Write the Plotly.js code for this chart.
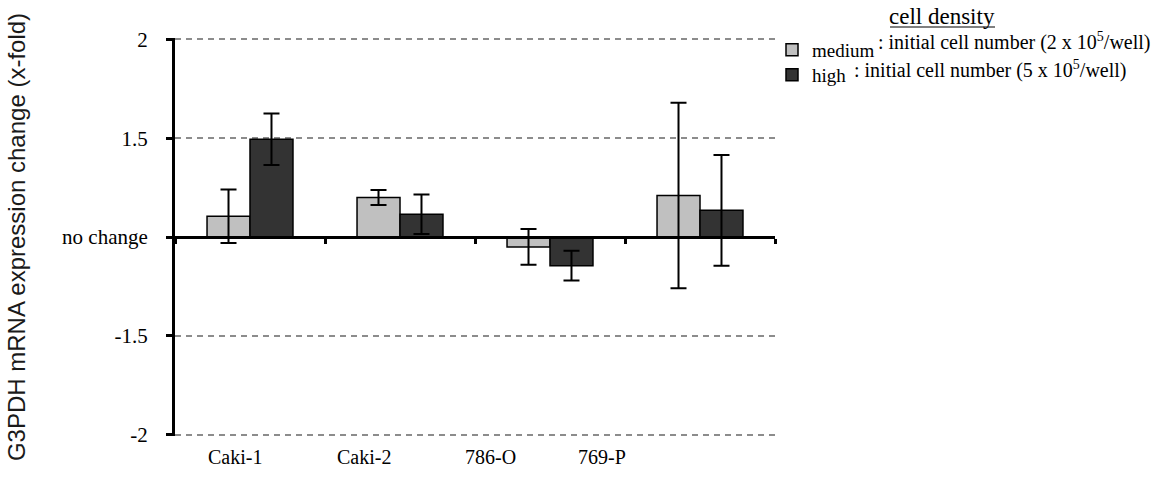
<!DOCTYPE html>
<html>
<head>
<meta charset="utf-8">
<script src="https://cdn.plot.ly/plotly-3.0.1.min.js"></script>
<style>html,body{margin:0;padding:0;background:#fff;}#chart{width:1167px;height:488px;}</style>
</head>
<body>
<div id="chart"></div>
<script>
// Data (internal axis units: 0 = no change, ±1 = ±1.5-fold, ±2 = ±2-fold)
const categories = ["Caki-1", "Caki-2", "786-O", "769-P"];
const seriesNames = ["medium", "high"];
const mediumValues = [0.21, 0.40, -0.10, 0.42];
const mediumErrors = [0.27, 0.075, 0.18, 0.94];
const highValues = [0.99, 0.23, -0.29, 0.27];
const highErrors = [0.26, 0.20, 0.15, 0.56];
const yTickVals = [-2, -1, 0, 1, 2];
const yTickText = ["-2", "-1.5", "no change", "1.5", "2"];
const legendTitle = "cell density";
const legendNotes = [": initial cell number (2 x 10<sup>5</sup>/well)", ": initial cell number (5 x 10<sup>5</sup>/well)"];

// Layout-only positions (paper coordinates)
const catLabelX = [0.1, 0.315, 0.525, 0.712];

const serif = "Liberation Serif, Times New Roman, serif";

const traces = [
  {
    type: "bar", name: seriesNames[0], x: categories, y: mediumValues, legend: "legend",
    marker: {color: "#c0c0c0", line: {color: "#000", width: 1.5}},
    error_y: {type: "data", array: mediumErrors, visible: true, color: "#000", thickness: 2, width: 8}
  },
  {
    type: "bar", name: seriesNames[1], x: categories, y: highValues, legend: "legend2",
    marker: {color: "#333333", line: {color: "#000", width: 1.5}},
    error_y: {type: "data", array: highErrors, visible: true, color: "#000", thickness: 2, width: 8}
  }
];

const annotations = [
  {xref: "paper", yref: "paper", x: 1.278, y: 1.055, xanchor: "center", yanchor: "middle", showarrow: false,
   text: legendTitle, font: {family: serif, size: 23, color: "#000"}},
  {xref: "paper", yref: "paper", x: 1.168, y: 0.990, xanchor: "left", yanchor: "middle", showarrow: false,
   text: legendNotes[0], font: {family: serif, size: 20, color: "#000"}},
  {xref: "paper", yref: "paper", x: 1.128, y: 0.922, xanchor: "left", yanchor: "middle", showarrow: false,
   text: legendNotes[1], font: {family: serif, size: 20, color: "#000"}}
];
categories.forEach((c, i) => annotations.push({
  xref: "paper", yref: "paper", x: catLabelX[i], y: -0.053, xanchor: "center", yanchor: "middle",
  showarrow: false, text: c, font: {family: serif, size: 20, color: "#000"}
}));

const legendBase = {
  x: 0.995, xanchor: "left", yanchor: "top",
  font: {family: serif, size: 19, color: "#000"},
  bgcolor: "rgba(0,0,0,0)"
};

const layout = {
  width: 1167, height: 488,
  margin: {l: 175, r: 392, t: 38, b: 52},
  paper_bgcolor: "#fff", plot_bgcolor: "#fff",
  barmode: "group", bargap: 0.427, bargroupgap: 0,
  showlegend: true,
  legend: Object.assign({}, legendBase, {y: 1.0176}),
  legend2: Object.assign({}, legendBase, {y: 0.9548}),
  xaxis: {
    type: "category", anchor: "free", position: 0.5,
    range: [-0.5, 3.5],
    showline: true, linecolor: "#000", linewidth: 3,
    ticks: "outside", tickson: "boundaries", ticklen: 5, tickwidth: 3, tickcolor: "#000",
    showticklabels: false, showgrid: false, zeroline: false, fixedrange: true
  },
  yaxis: {
    range: [-2.015, 2.015],
    tickmode: "array", tickvals: yTickVals, ticktext: yTickText,
    showline: true, linecolor: "#000", linewidth: 3,
    ticks: "outside", ticklen: 6, tickwidth: 3, tickcolor: "#000",
    tickfont: {family: serif, size: 21, color: "#000"},
    ticklabelstandoff: 14,
    showgrid: true, gridcolor: "#8c8c8c", gridwidth: 2, griddash: "6px,5px",
    zeroline: true, zerolinecolor: "#000", zerolinewidth: 3,
    title: {text: "G3PDH mRNA expression change (x-fold)", font: {family: "Liberation Sans, Arial, sans-serif", size: 24, color: "#1a1a1a"}, standoff: 30}
  },
  annotations: annotations,
  shapes: [
    {type: "line", xref: "paper", yref: "paper", x0: 1.1917, x1: 1.3667, y0: 1.0276, y1: 1.0276, line: {color: "#000", width: 1.2}}
  ]
};

Plotly.newPlot("chart", traces, layout, {displayModeBar: false, staticPlot: true});
</script>
</body>
</html>
